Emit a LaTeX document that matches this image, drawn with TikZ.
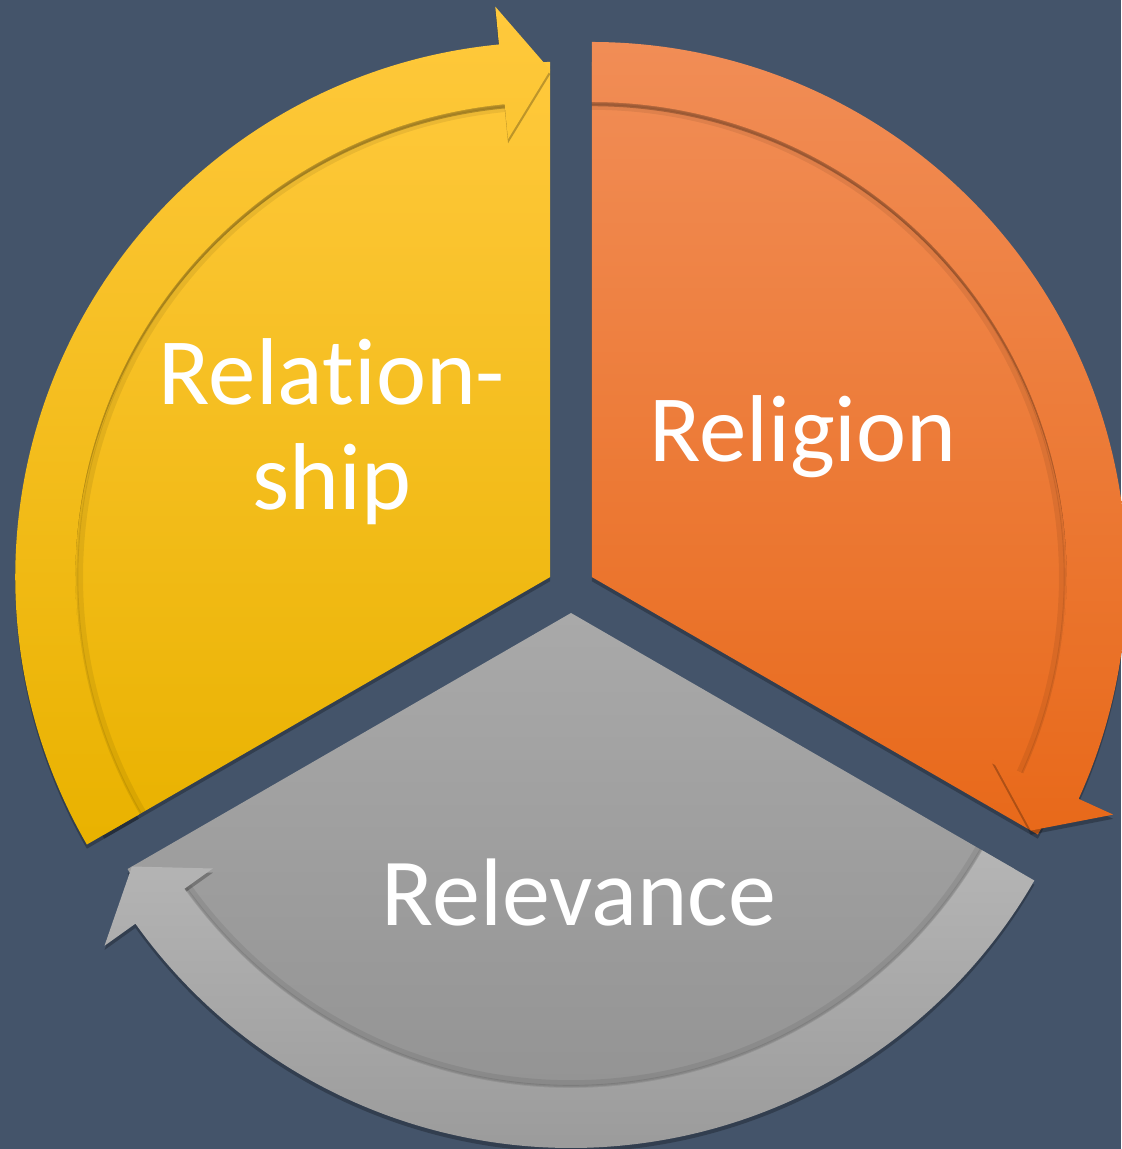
\documentclass[tikz,border=0pt]{standalone}
\usepackage{fontspec}
\setmainfont{Carlito}[Ligatures=NoCommon]
\usetikzlibrary{shadows}

\definecolor{bgBlue}{HTML}{44546A}
\definecolor{yellowTop}{HTML}{FFC93C}
\definecolor{yellowBot}{HTML}{E9B200}
\definecolor{orangeTop}{HTML}{F18D56}
\definecolor{orangeBot}{HTML}{E8691A}
\definecolor{grayTop}{HTML}{A9A9A9}
\definecolor{grayBot}{HTML}{8F8F8F}
\definecolor{grayBandTop}{HTML}{B5B5B5}
\definecolor{grayBandBot}{HTML}{9A9A9A}

\begin{document}
\begin{tikzpicture}[x=0.01cm, y=0.01cm,
    label text/.style={text=white, font=\fontsize{27}{30}\selectfont, inner sep=0pt, align=center},
    soft shadow/.style={drop shadow={shadow xshift=0pt, shadow yshift=-1.2pt, opacity=0.25, fill=black}},
    edge shade/.style={black, opacity=0.07, line width=1.6pt},
    edge line/.style={black, opacity=0.09, line width=0.6pt}]
    \useasboundingbox (-571,-560) rectangle (550,589);
    \fill[bgBlue] (-571,-560) rectangle (550,589);

    \coordinate (posRelation) at (150:24);
    \coordinate (posReligion) at (30:24);
    \coordinate (posRelevance) at (270:24);

    % Relationship
    \begin{scope}[shift={(posRelation)}]
        \path[top color=yellowTop, bottom color=yellowBot, soft shadow] (0,0) -- (210:515) arc[start angle=210, end angle=90, radius=515] -- cycle;
        \draw[edge shade] (210:470) arc[start angle=210, end angle=95.5, radius=470];
        \draw[edge line] (210:473) arc[start angle=210, end angle=95.5, radius=473];
        \path[top color=yellowTop, bottom color=yellowBot, soft shadow] (210:475) arc[start angle=210, end angle=95.5, radius=475] -- (95.5:440) -- (90:507) -- (95.5:573) -- (95.5:535) arc[start angle=95.5, end angle=210, radius=535] -- cycle;
    \end{scope}

    % Religion
    \begin{scope}[shift={(posReligion)}]
        \path[top color=orangeTop, bottom color=orangeBot, soft shadow] (0,0) -- (90:515) arc[start angle=90, end angle=-30, radius=515] -- cycle;
        \draw[edge shade] (90:470) arc[start angle=90, end angle=-24.5, radius=470];
        \draw[edge line] (90:473) arc[start angle=90, end angle=-24.5, radius=473];
        \path[top color=orangeTop, bottom color=orangeBot, soft shadow] (90:475) arc[start angle=90, end angle=-24.5, radius=475] -- (-24.5:440) -- (-30:507) -- (-24.5:573) -- (-24.5:535) arc[start angle=-24.5, end angle=90, radius=535] -- cycle;
    \end{scope}

    % Relevance
    \begin{scope}[shift={(posRelevance)}]
        \path[top color=grayTop, bottom color=grayBot, soft shadow] (0,0) -- (330:512) arc[start angle=330, end angle=210, radius=512] -- cycle;
        \draw[edge shade] (330:470) arc[start angle=330, end angle=215.5, radius=470];
        \draw[edge line] (330:473) arc[start angle=330, end angle=215.5, radius=473];
        \path[top color=grayBandTop, bottom color=grayBandBot, soft shadow] (330:475) arc[start angle=330, end angle=215.5, radius=475] -- (215.5:440) -- (210:507) -- (215.5:573) -- (215.5:535) arc[start angle=215.5, end angle=330, radius=535] -- cycle;
    \end{scope}

    \node[label text, anchor=base] (textRelation) at (-239,79) {Relation-\\ship};
    \node[label text, anchor=base] (textReligion) at (232,127) {Religion};
    \node[label text, anchor=base, font=\fontsize{27.3}{30}\selectfont] (textRelevance) at (8,-336) {Relevance};
\end{tikzpicture}
\end{document}
